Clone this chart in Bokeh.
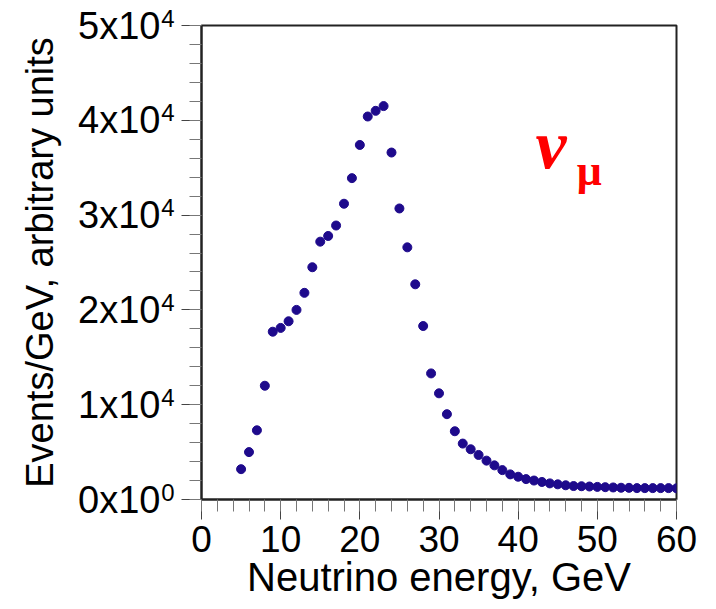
from bokeh.plotting import figure
from bokeh.models import Range1d, SingleIntervalTicker, FixedTicker, Label, ColumnDataSource, LinearAxis
from bokeh.embed import file_html
from bokeh.resources import INLINE

energy = list(range(5, 61))
events = [3200, 5000, 7300, 12000, 17700, 18100, 18800, 20000, 21800, 24500,
          27200, 27800, 28900, 31200, 33900, 37400, 40400, 41000, 41500, 36600,
          30700, 26600, 22700, 18300, 13300, 11200, 9000, 7200, 5900, 5300,
          4700, 4100, 3600, 3100, 2650, 2400, 2150, 2000, 1850, 1700,
          1600, 1500, 1420, 1400, 1370, 1330, 1300, 1270, 1240, 1230,
          1200, 1200, 1200, 1200, 1200, 1180]

y_tick_values = [0, 10000, 20000, 30000, 40000, 50000]
y_tick_mantissa = ["0x10", "1x10", "2x10", "3x10", "4x10", "5x10"]
y_tick_exponent = ["0", "4", "4", "4", "4", "4"]

FONT = "Liberation Sans"

p = figure(frame_width=475, frame_height=474, output_backend="svg", toolbar_location=None,
           x_range=Range1d(0, 60), y_range=Range1d(0, 50000),
           min_border_left=201, min_border_right=40, min_border_top=25, min_border_bottom=110)
p.background_fill_color = "white"
p.border_fill_color = "white"
p.outline_line_color = "#222222"
p.outline_line_width = 2
p.xgrid.visible = False
p.ygrid.visible = False

src = ColumnDataSource(dict(x=energy, y=events))
p.scatter("x", "y", source=src, size=9, fill_color="#1e0a8c", line_color="#1e0a8c")

xax = p.xaxis[0]
yax = p.yaxis[0]
xax.ticker = SingleIntervalTicker(interval=10, num_minor_ticks=5)
yax.ticker = SingleIntervalTicker(interval=10000, num_minor_ticks=5)

for ax in (xax, yax):
    ax.axis_line_color = "#222222"
    ax.axis_line_width = 2
    ax.major_tick_line_color = "#444444"
    ax.minor_tick_line_color = "#777777"
    ax.major_tick_out = 20
    ax.major_tick_in = 0
    ax.minor_tick_out = 12
    ax.minor_tick_in = 0
    ax.major_label_text_font = FONT
    ax.major_label_text_color = "black"
    ax.axis_label_text_font = FONT
    ax.axis_label_text_font_style = "normal"
    ax.axis_label_text_color = "black"

xax.major_label_text_font_size = "37px"
xax.major_label_standoff = 6
xax.axis_label = "Neutrino energy, GeV"
xax.axis_label_text_font_size = "40px"
xax.axis_label_standoff = 0

# inner y axis: line and ticks only
yax.major_label_text_font_size = "0px"
yax.major_label_standoff = 0
yax.major_label_overrides = {v: "" for v in y_tick_values}

# exponent (superscript) labels
exp_axis = LinearAxis(ticker=FixedTicker(ticks=y_tick_values),
                      major_label_overrides={v: e + "\n" for v, e in zip(y_tick_values, y_tick_exponent)},
                      axis_line_color=None, major_tick_line_color=None, minor_tick_line_color=None,
                      major_tick_out=0, major_tick_in=0, minor_tick_out=0, minor_tick_in=0,
                      major_label_standoff=7, major_label_text_font=FONT,
                      major_label_text_font_size="24px", major_label_text_line_height=0.55,
                      major_label_text_color="black")
p.add_layout(exp_axis, "left")

# mantissa labels and the axis title
mant_axis = LinearAxis(ticker=FixedTicker(ticks=y_tick_values),
                       major_label_overrides={v: m for v, m in zip(y_tick_values, y_tick_mantissa)},
                       axis_line_color=None, major_tick_line_color=None, minor_tick_line_color=None,
                       major_tick_out=0, major_tick_in=0, minor_tick_out=0, minor_tick_in=0,
                       major_label_standoff=-2, major_label_text_font=FONT,
                       major_label_text_font_size="38px", major_label_text_color="black",
                       axis_label="Events/GeV, arbitrary units", axis_label_text_font=FONT,
                       axis_label_text_font_style="normal", axis_label_text_font_size="38px",
                       axis_label_text_color="black", axis_label_standoff=14)
p.add_layout(mant_axis, "left")

nu = Label(x=42.2, y=33400, text="\u03bd", text_font="Liberation Serif", text_font_size="70px",
           text_font_style="bold italic", text_color="#ff0000")
mu = Label(x=47.4, y=32100, text="\u03bc", text_font="Liberation Serif", text_font_size="44px",
           text_font_style="bold", text_color="#ff0000")
p.add_layout(nu)
p.add_layout(mu)

open("out.html", "w").write(file_html(p, INLINE))
